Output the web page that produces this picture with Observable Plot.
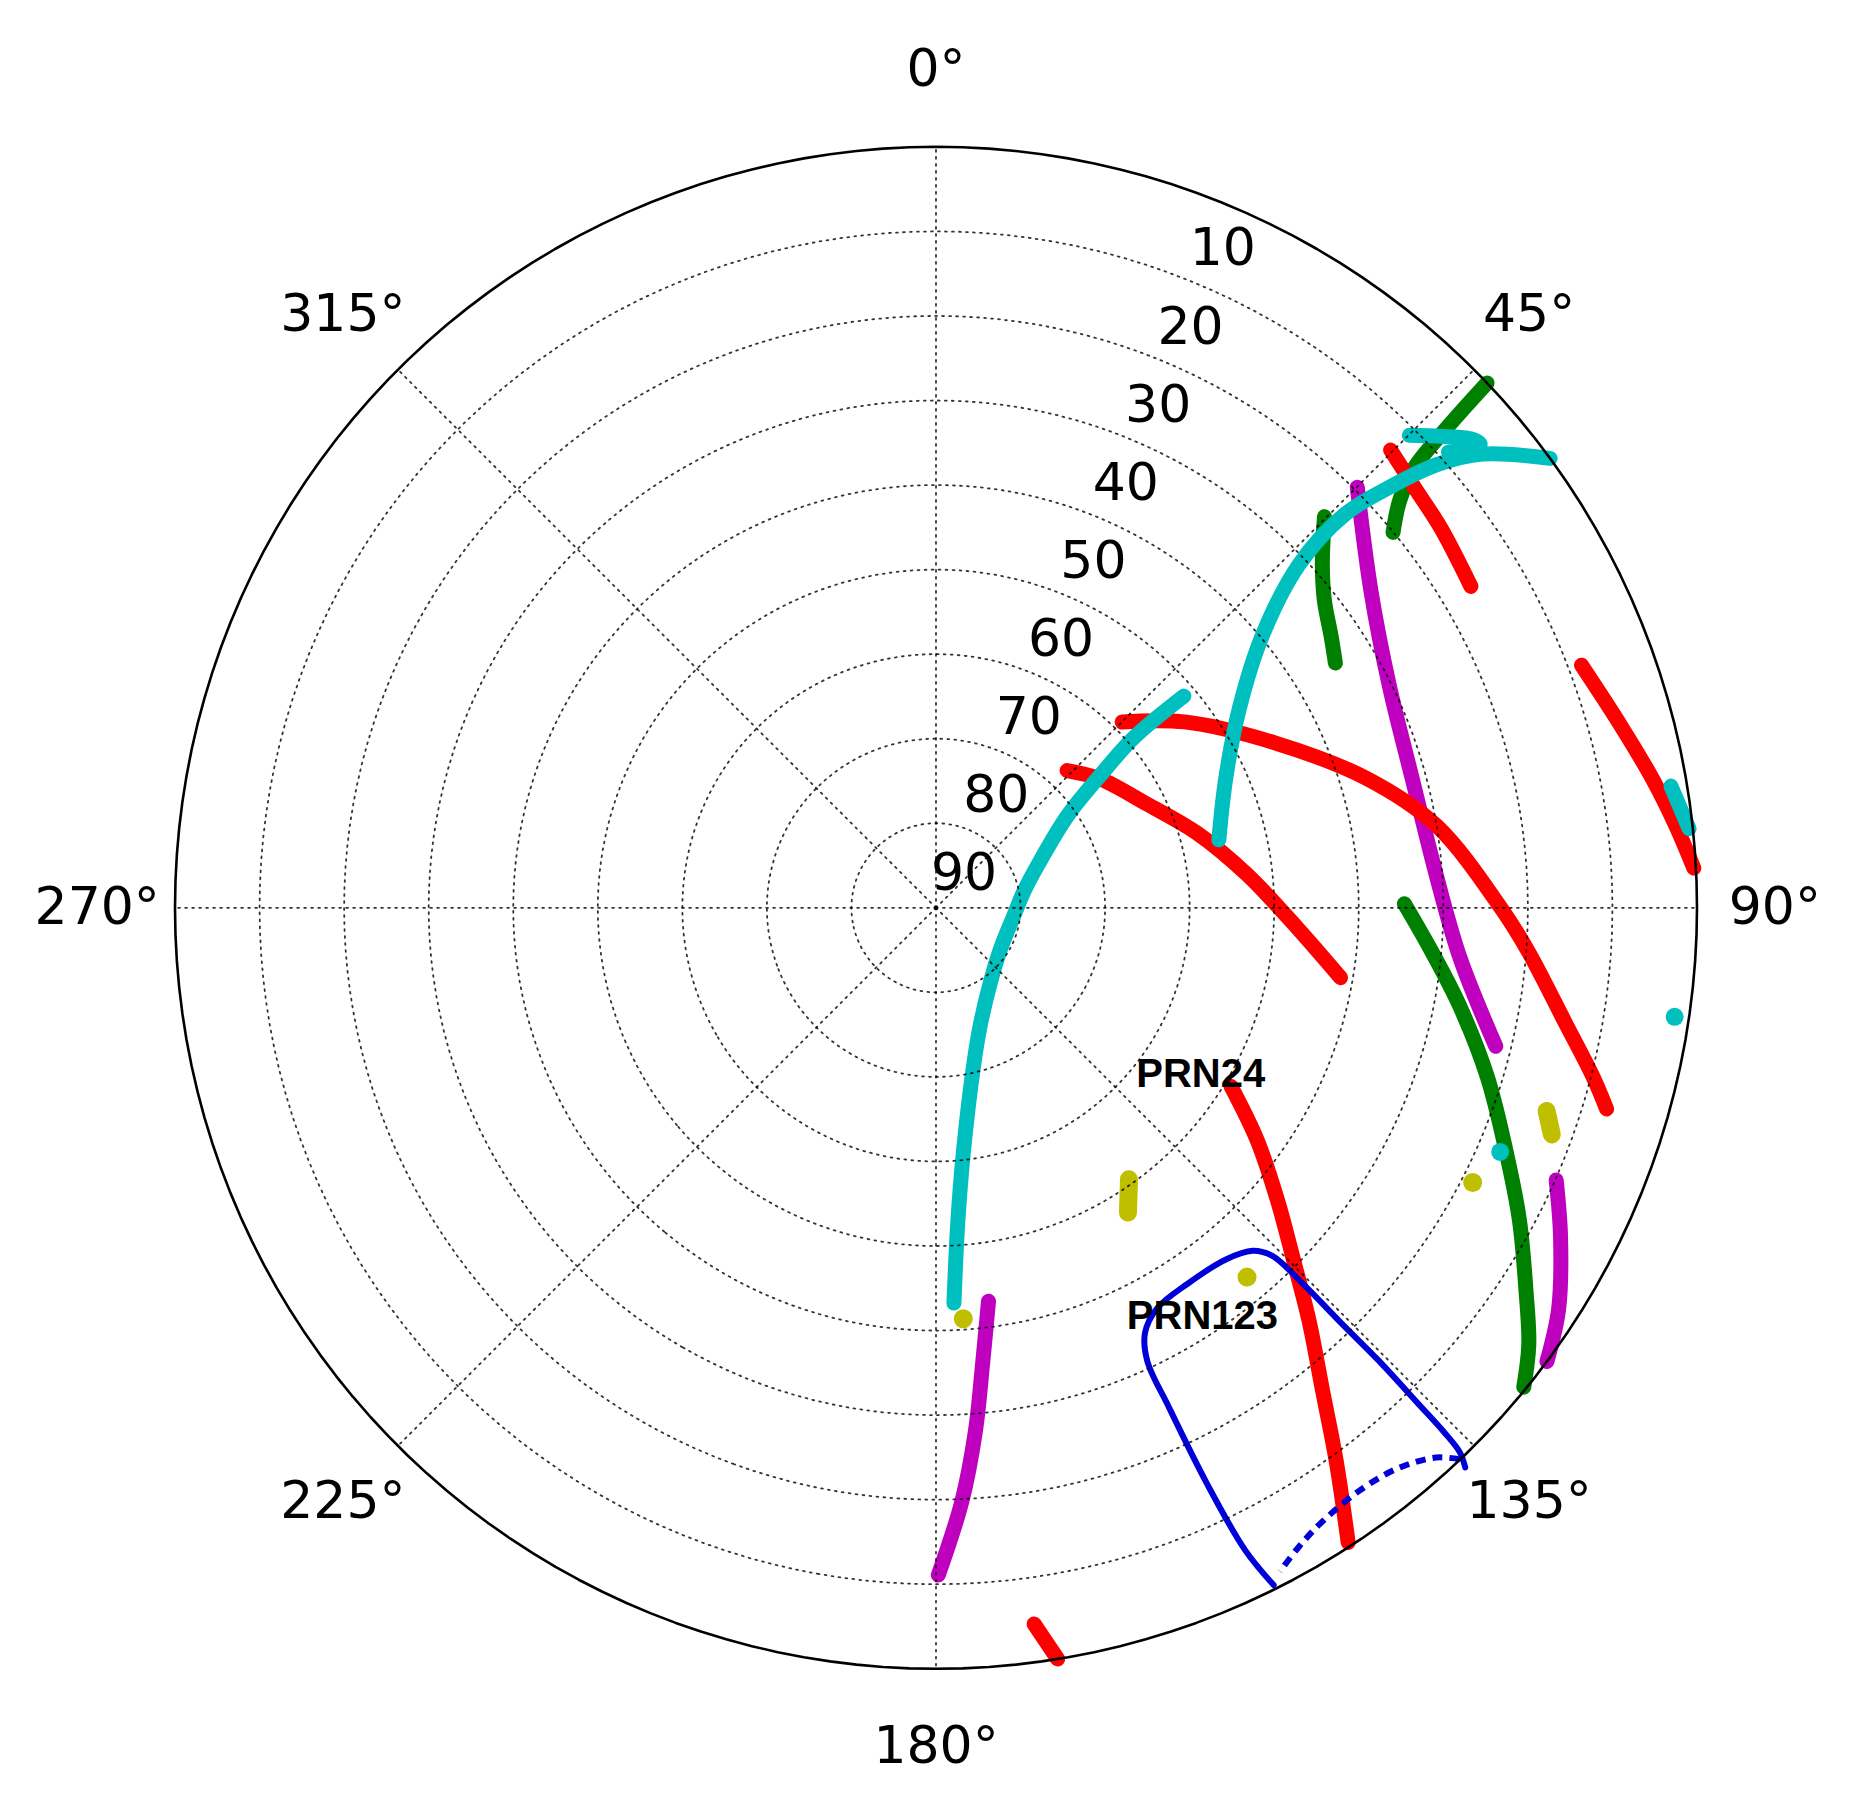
<!DOCTYPE html>
<html>
<head>
<meta charset="utf-8">
<script src="https://cdn.jsdelivr.net/npm/d3@7"></script>
<script src="https://cdn.jsdelivr.net/npm/@observablehq/plot@0.6"></script>
<style>
  html, body { margin: 0; padding: 0; background: #fff; }
  svg { display: block; }
</style>
</head>
<body>
<div id="chart"></div>
<script>
// ---- Data: satellite tracks as [azimuth°, elevation°] ----
const cyanArc1 = [[177.4,43.2],[176.0,52.9],[173.4,61.4],[166.5,70.9],[159.0,75.3],[143.8,79.1],[122.6,80.95],[95.9,80.75],[79.2,79.4],[67.6,77.05],[55.1,71.1],[51.1,65.0],[49.3,59.1],[49.5,51.45]];
const cyanArc2 = [[76.5,55.6],[66.0,52.5],[56.6,47.0],[50.2,39.8],[46.6,30.9],[46.1,22.9],[47.2,16.65],[48.5,10.9],[50.3,6.0],[53.8,0]];
const cyanHook = [[45.05,10.9],[47.0,8.25],[48.95,5.7],[49.6,5.5],[48.35,8.9]];
const cyanEdge = [[80.6,1.9],[84.0,0.45]];
const cyanDots = [[98.4,1.7],[113.4,17.3]];

const redA = [[45.05,58.9],[53.2,53.3],[64.2,45.3],[73.4,36.7],[80.7,30.0],[90.0,23.2],[94.3,19.7],[100.4,14.3],[104.4,9.8],[106.7,7.2]];
const redB = [[43.7,67.55],[51.9,65.3],[63.8,62.2],[74.0,57.9],[83.9,53.0],[93.2,47.2],[99.8,41.45]];
const redPRN24 = [[121.2,49.2],[125.9,43.1],[130.6,36.8],[134.6,30.6],[137.9,24.2],[141.3,16.9],[144.1,9.3],[147.0,0.5]];
const redTop = [[44.8,13.7],[48.6,14.65],[53.1,15.3],[59.0,16.2]];
const redRight = [[69.4,8.45],[75.1,6.2],[79.8,3.9],[83.6,2.0],[87.0,0.25]];
const redBottom = [[172.2,4.5],[170.8,0]];

const greenTop = [[46.4,0],[46.8,7.3],[47.4,13.2],[48.7,17.0],[50.6,20.05]];
const greenMid = [[44.8,24.8],[48.4,28.9],[51.6,31.4],[55.5,33.3],[58.5,34.6]];
const greenLong = [[89.5,34.6],[95.1,31.1],[100.6,27.0],[107.05,21.8],[112.9,16.9],[118.1,11.8],[123.0,6.8],[126.4,2.9],[129.2,0.3]];

const magentaLong = [[45.05,19.6],[54.0,26.4],[63.9,30.3],[75.05,31.65],[86.3,30.7],[95.45,27.75],[103.9,21.8]];
const magentaRight = [[113.7,9.9],[117.8,6.5],[122.8,2.4],[126.6,0]];
const magentaBottom = [[172.4,43.05],[174.1,36.1],[175.7,27.9],[177.5,19.75],[179.8,11.1]];

const yellowBlobA = [[108.4,13.9],[110.2,12.4]];
const yellowBlobB = [[144.6,50.6],[147.8,47.4]];
const yellowDots = [[117.1,18.7],[139.9,32.9],[176.2,41.3]];

const bluePRN123 = [[153.5,0.5],[154.3,5.7],[154.8,14.7],[155.0,24.9],[155.0,30.9],[153.8,34.0],[151.1,35.9],[146.2,36.5],[140.5,36.1],[137.3,34.8],[136.0,32.8],[135.7,27.9],[135.7,21.5],[135.65,15.1],[135.8,8.35],[135.9,3.75],[136.1,0.7],[136.6,-1.1]];
const bluePRN123Masked = [[136.5,0.1],[137.7,2.1],[140.5,4.1],[144.0,4.8],[147.9,4.2],[150.4,3.1],[152.6,1.6]];

// ---- Labels ----
const ringElevations = [10, 20, 30, 40, 50, 60, 70, 80, 90];
const ringLabels = ["10", "20", "30", "40", "50", "60", "70", "80", "90"];
const gridElevations = [10, 20, 30, 40, 50, 60, 70, 80];
const azimuthTicks = [0, 45, 90, 135, 180, 225, 270, 315];
const azimuthLabels = ["0°", "45°", "90°", "135°", "180°", "225°", "270°", "315°"];
const prnLabels = [{name: "PRN24", az: 122.2, el: 53.0}, {name: "PRN123", az: 146.9, el: 32.3}];

// ---- Helpers ----
const lon = (az) => 180 - az;     // azimuth clockwise from north, on a pole-centred projection
const lineMarks = (pts, color, extra = {}) =>
  Plot.line(pts, {x: d => lon(d[0]), y: d => d[1], stroke: color, strokeWidth: 15,
    curve: "catmull-rom", strokeLinecap: "round", strokeLinejoin: "round", ...extra});

const R = "#ff0000", G = "#008000", C = "#00bfbf", M = "#bf00bf", Y = "#bfbf00", B = "#0000d8";

const ringGeo = gridElevations.map(e => ({type: "LineString",
  coordinates: d3.geoCircle().center([0, 90]).radius(90 - e)().coordinates[0]}));
const outerGeo = {type: "LineString", coordinates: d3.geoCircle().center([0, 90]).radius(90)().coordinates[0]};
const spokeGeo = azimuthTicks.map(a => ({type: "LineString", coordinates: [[lon(a), 90], [lon(a), 0]]}));

const gridStyle = {stroke: "#000", strokeOpacity: 0.8, strokeWidth: 1.8, strokeDasharray: "1.8,5.2", fill: "none"};

const chart = Plot.plot({
  width: 1853,
  height: 1794,
  marginLeft: 174.5,
  marginRight: 156.5,
  marginTop: 146.3,
  marginBottom: 125.7,
  style: {background: "white", overflow: "visible"},
  projection: {
    type: "azimuthal-equidistant",
    rotate: [0, -90],
    domain: d3.geoCircle().center([0, 90]).radius(90)(),
    clip: 120
  },
  marks: [
    lineMarks(yellowBlobA, Y, {strokeWidth: 18}),
    lineMarks(yellowBlobB, Y, {strokeWidth: 18}),
    Plot.dot(yellowDots, {x: d => lon(d[0]), y: d => d[1], r: 9.5, fill: Y}),
    lineMarks(greenTop, G),
    lineMarks(greenMid, G),
    lineMarks(greenLong, G),
    lineMarks(magentaLong, M),
    lineMarks(magentaRight, M),
    lineMarks(magentaBottom, M),
    lineMarks(redA, R),
    lineMarks(redB, R),
    lineMarks(redPRN24, R),
    lineMarks(redTop, R),
    lineMarks(redRight, R),
    lineMarks(redBottom, R),
    lineMarks(cyanArc1, C),
    lineMarks(cyanArc2, C),
    lineMarks(cyanHook, C),
    lineMarks(cyanEdge, C),
    Plot.dot(cyanDots, {x: d => lon(d[0]), y: d => d[1], r: 9, fill: C}),
    lineMarks(bluePRN123, B, {strokeWidth: 6}),
    lineMarks(bluePRN123Masked, B, {strokeWidth: 6, strokeDasharray: "10,7", strokeLinecap: "butt"}),
    // grid (drawn above data, as in the original)
    Plot.geo(ringGeo, gridStyle),
    Plot.geo(spokeGeo, gridStyle),
    Plot.geo([outerGeo], {stroke: "#000", strokeWidth: 2.6, fill: "none"}),
    Plot.dot([[0, 90]], {x: d => d[0], y: d => d[1], r: 2, fill: "#000"}),
    // radial labels
    Plot.text(ringElevations, {x: () => lon(22.5), y: d => d, text: (d, i) => ringLabels[i],
      dx: 28, dy: -34, fontSize: 52, fontFamily: "DejaVu Sans", fill: "#000"}),
    // azimuth labels
    Plot.text(azimuthTicks, {x: d => lon(d), y: () => -9.2, text: (d, i) => azimuthLabels[i],
      fontSize: 52, fontFamily: "DejaVu Sans", fill: "#000"}),
    // PRN annotations
    Plot.text(prnLabels, {x: d => lon(d.az), y: "el", text: "name", fontSize: 40,
      fontWeight: "bold", fontFamily: "Liberation Sans, Arial, sans-serif", fill: "#000"})
  ]
});
document.getElementById("chart").appendChild(chart);
</script>
</body>
</html>
